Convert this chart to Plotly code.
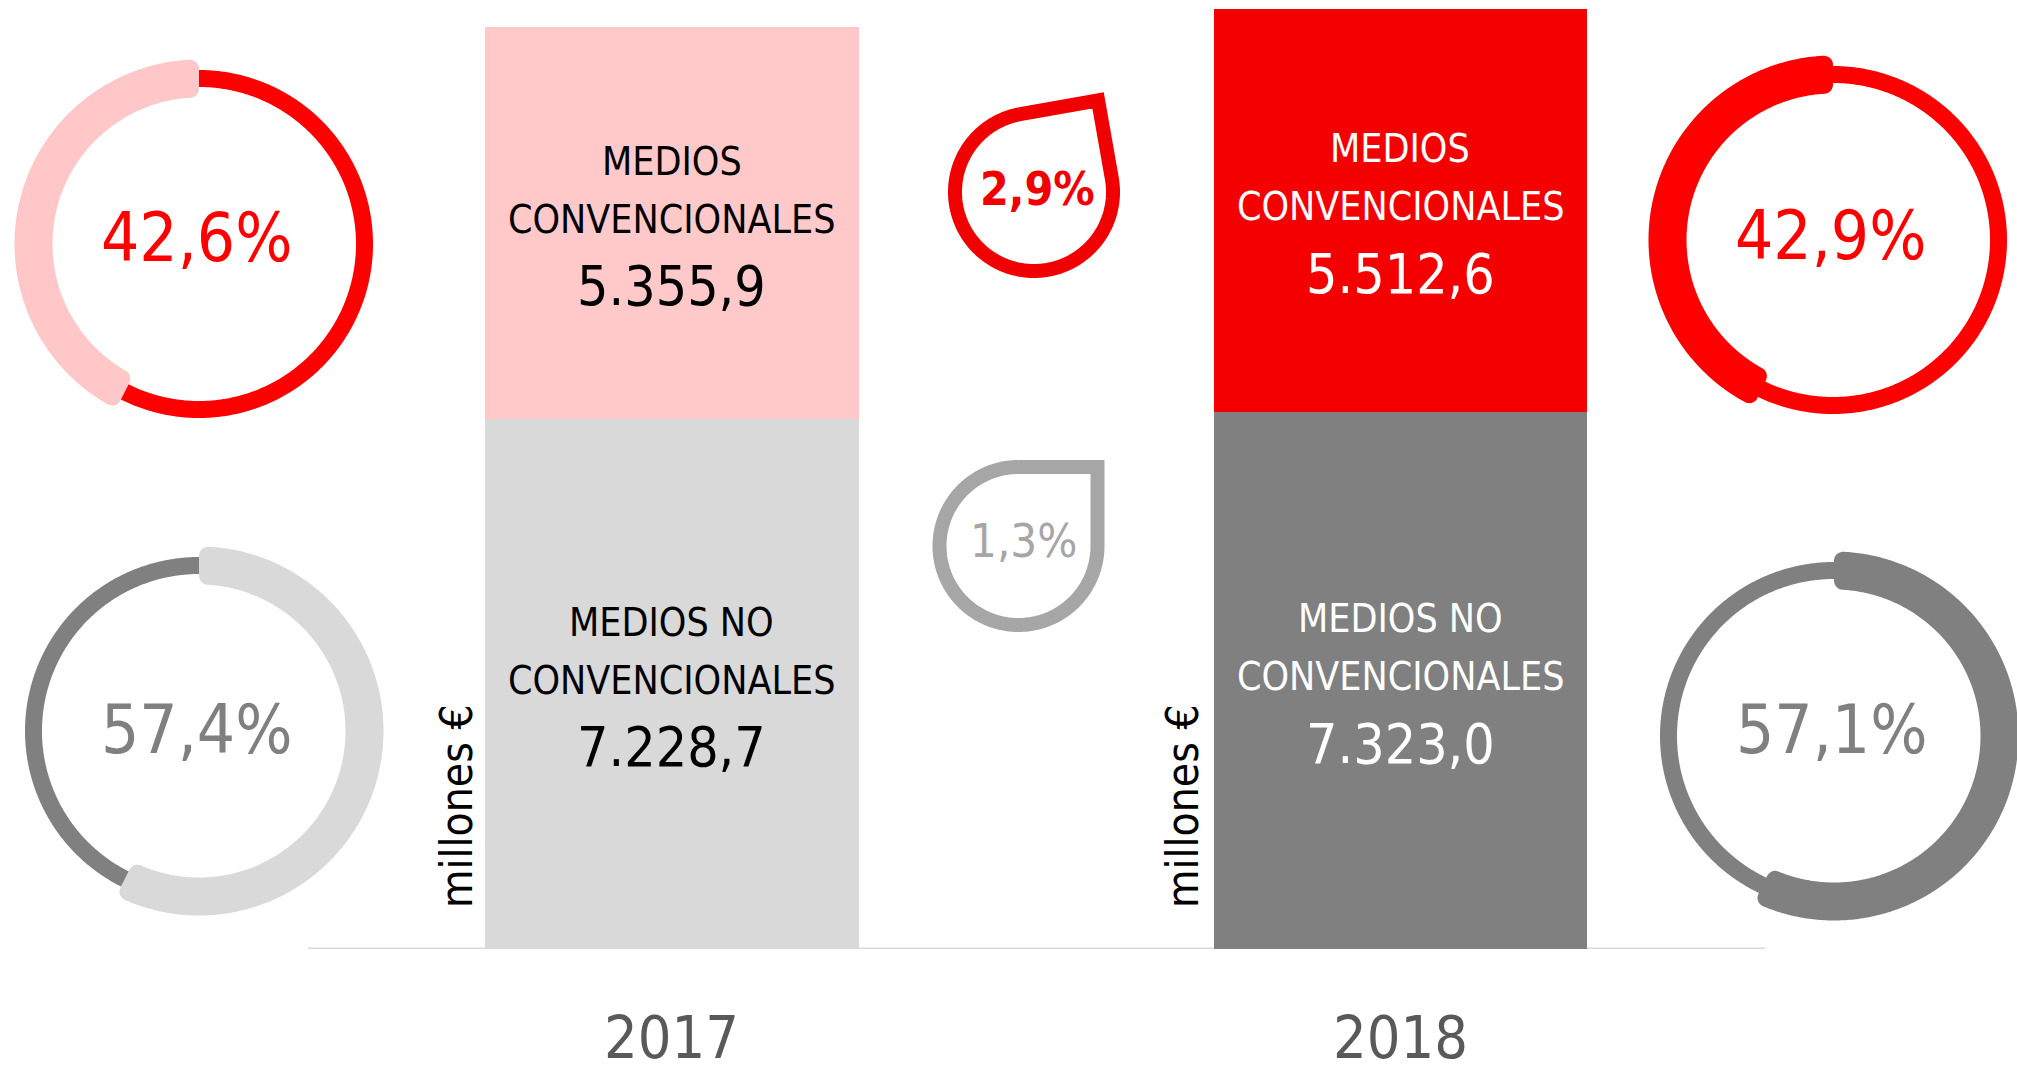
import numpy as np
import plotly.graph_objects as go

# ---------------- data ----------------
years = ["2017", "2018"]
conv = [5355.9, 5512.6]              # medios convencionales (millones €)
no_conv = [7228.7, 7323.0]           # medios no convencionales (millones €)
conv_labels = ["5.355,9", "5.512,6"]
no_conv_labels = ["7.228,7", "7.323,0"]
share_conv = [42.6, 42.9]            # % convencionales
share_no_conv = [57.4, 57.1]         # % no convencionales
share_conv_labels = ["42,6%", "42,9%"]
share_no_conv_labels = ["57,4%", "57,1%"]
growth_labels = ["2,9%", "1,3%"]     # variación conv / no conv
conv_words = ["MEDIOS", "CONVENCIONALES"]
no_conv_words = ["MEDIOS NO", "CONVENCIONALES"]
unit_label = "millones €"

# ---------------- styles ----------------
W, H = 2017, 1071
BASE_PX = 949
FONT = "DejaVu Sans Condensed, DejaVu Sans, sans-serif"
conv_colors = ["#ffc9c9", "#f50000"]
no_conv_colors = ["#d9d9d9", "#808080"]
text_colors = ["#000000", "#ffffff"]
RED = "#ff0000"
PINK = "#ffc7c7"
DGREY = "#808080"
LGREY = "#d9d9d9"

xpos = list(range(len(years)))

fig = go.Figure()

# stacked bars
fig.add_trace(go.Bar(x=xpos, y=no_conv, marker=dict(color=no_conv_colors, line=dict(width=0)),
                     width=0.5127, hoverinfo="skip", xaxis="x", yaxis="y"))
fig.add_trace(go.Bar(x=xpos, y=conv, marker=dict(color=conv_colors, line=dict(width=0)),
                     width=0.5127, hoverinfo="skip", xaxis="x", yaxis="y"))

annotations = []
shifts = [62, 4, -63]
for i, yr in enumerate(years):
    segs = [(no_conv[i] / 2, no_conv_words, no_conv_labels[i]),
            (no_conv[i] + conv[i] / 2, conv_words, conv_labels[i])]
    for ymid, words, num in segs:
        lines = [(words[0], 39), (words[1], 39), (num, 55)]
        for (txt, sz), sh in zip(lines, shifts):
            annotations.append(dict(x=xpos[i], y=ymid, xref="x", yref="y", text=txt, showarrow=False,
                                    yshift=sh, xanchor="center", yanchor="middle",
                                    font=dict(family=FONT, size=sz, color=text_colors[i])))
    # year label
    annotations.append(dict(x=xpos[i], y=0, xref="x", yref="y", text=yr, showarrow=False,
                            yshift=-88, xanchor="center", yanchor="middle",
                            font=dict(family=FONT, size=59, color="#595959")))

# baseline
fig.add_shape(type="line", xref="x", yref="y", x0=-0.5, x1=1.5, y0=0, y1=0,
              line=dict(color="#d9d9d9", width=3), layer="below")

# ---------------- donuts (pixel overlay axes) ----------------
RM = 165.5


def band(cx, cy, pct, direction, rm=RM, w=38, c=9, n=300):
    L = rm * np.radians(360 * pct / 100.0)
    pts = []
    h = w / 2

    def corner(sc, tc, a0, a1):
        a = np.radians(np.linspace(a0, a1, 12))
        return [(sc + c * np.cos(t), tc + c * np.sin(t)) for t in a]
    s = np.linspace(c, L - c, n)
    pts += [(v, h) for v in s]
    pts += corner(L - c, h - c, 90, 0)
    pts += corner(L - c, -h + c, 0, -90)
    pts += [(v, -h) for v in s[::-1]]
    pts += corner(c, -h + c, -90, -180)
    pts += corner(c, h - c, 180, 90)
    xs, ys = [], []
    for sv, tv in pts:
        th = np.pi / 2 + direction * sv / rm
        r = rm + tv
        xs.append(cx + r * np.cos(th))
        ys.append(cy - r * np.sin(th))
    xs.append(xs[0]); ys.append(ys[0])
    return xs, ys


def ring(cx, cy, rm=RM, n=720):
    t = np.linspace(0, 2 * np.pi, n)
    return cx + rm * np.cos(t), cy - rm * np.sin(t)


donuts = [
    # (center, pct, label, direction, thin colour, thick colour, text colour, text dy)
    ((199, 244), share_conv[0], share_conv_labels[0], +1, RED, PINK, RED, -6),
    ((199, 731), share_no_conv[0], share_no_conv_labels[0], -1, DGREY, LGREY, DGREY, -1),
    ((1833, 240), share_conv[1], share_conv_labels[1], +1, RED, RED, RED, -4),
    ((1834, 736), share_no_conv[1], share_no_conv_labels[1], -1, DGREY, DGREY, DGREY, -6),
]
for (cx, cy), pct, lab, d, thin_c, thick_c, txt_c, tdy in donuts:
    rx, ry = ring(cx, cy)
    fig.add_trace(go.Scatter(x=rx, y=ry, mode="lines",
                             line=dict(color=thin_c, width=17, simplify=False),
                             hoverinfo="skip", xaxis="x2", yaxis="y2"))
    bx, by = band(cx, cy, pct, d)
    fig.add_trace(go.Scatter(x=bx, y=by, mode="lines", fill="toself", fillcolor=thick_c,
                             line=dict(color=thick_c, width=0, simplify=False), hoverinfo="skip",
                             xaxis="x2", yaxis="y2"))
    annotations.append(dict(x=cx - 3, y=cy + tdy, xref="x2", yref="y2", text=lab,
                            showarrow=False, xanchor="center", yanchor="middle",
                            font=dict(family=FONT, size=67, color=txt_c)))


# ---------------- growth drops ----------------
def drop(cx, cy, rot_deg, r=79, n=300):
    a = np.radians(np.linspace(90, 360, n))
    px = list(r * np.cos(a)) + [r, 0]
    py = list(r * np.sin(a)) + [r, r]
    rot = np.radians(rot_deg)
    xs = [cx + x * np.cos(rot) - y * np.sin(rot) for x, y in zip(px, py)]
    ys = [cy - (x * np.sin(rot) + y * np.cos(rot)) for x, y in zip(px, py)]
    return xs, ys


drops = [((1034, 192), 10, "#f00000", growth_labels[0], True, (1037, 189)),
         ((1018.5, 546), 0, "#a6a6a6", growth_labels[1], False, (1023, 540))]
for (cx, cy), rot, col, lab, bold, (tx, ty) in drops:
    dx, dy = drop(cx, cy, rot)
    fig.add_trace(go.Scatter(x=dx, y=dy, mode="lines",
                             line=dict(color=col, width=14, simplify=False),
                             hoverinfo="skip", xaxis="x2", yaxis="y2"))
    annotations.append(dict(x=tx, y=ty, xref="x2", yref="y2",
                            text=f"<b>{lab}</b>" if bold else lab, showarrow=False,
                            xanchor="center", yanchor="middle",
                            font=dict(family=FONT, size=46 if bold else 47, color=col)))

# unit labels
for ux in (456, 1182):
    annotations.append(dict(x=ux, y=806, xref="x2", yref="y2", text=unit_label, showarrow=False,
                            textangle=-90, xanchor="center", yanchor="middle",
                            font=dict(family=FONT, size=44, color="#000000")))

ytop = (conv[0] + no_conv[0]) * BASE_PX / 922.0
fig.update_layout(
    width=W, height=H, autosize=False,
    margin=dict(l=0, r=0, t=0, b=0, pad=0),
    paper_bgcolor="white", plot_bgcolor="rgba(0,0,0,0)",
    barmode="stack", bargap=0, showlegend=False,
    xaxis=dict(domain=[0, 1], anchor="y", type="linear", range=[-0.9224, 1.8463],
               showgrid=False, zeroline=False, showline=False, showticklabels=False, ticks=""),
    yaxis=dict(domain=[(H - BASE_PX) / H, 1], anchor="x", range=[0, ytop],
               showgrid=False, zeroline=False, showline=False, showticklabels=False, ticks=""),
    xaxis2=dict(domain=[0, 1], anchor="y2", range=[0, W], visible=False),
    yaxis2=dict(domain=[0, 1], anchor="x2", range=[H, 0], visible=False),
    annotations=annotations,
)

fig.write_html("out.html", config={"displayModeBar": False},
               post_script="document.body.style.margin='0';document.body.style.overflow='hidden';")
